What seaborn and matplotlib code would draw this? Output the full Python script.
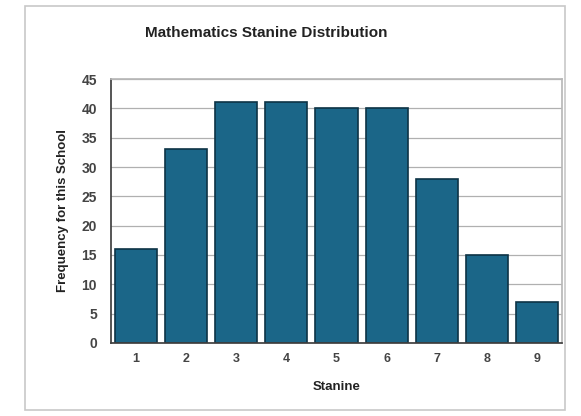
import matplotlib
matplotlib.use("Agg")
import matplotlib.pyplot as plt
from matplotlib.patches import Rectangle
import seaborn as sns
import pandas as pd

stanines = ["1", "2", "3", "4", "5", "6", "7", "8", "9"]
frequency = [16, 33, 41, 41, 40, 40, 28, 15, 7]
y_ticks = [0, 5, 10, 15, 20, 25, 30, 35, 40, 45]

df = pd.DataFrame({"Stanine": stanines, "Frequency": frequency})

sns.set_theme(style="white")
plt.rcParams["font.family"] = ["Liberation Sans", "DejaVu Sans"]

fig = plt.figure(figsize=(5.81, 4.16), dpi=100)
fig.patch.set_facecolor("white")
fig.patches.append(Rectangle((25 / 581, 6 / 416), 540 / 581, 404 / 416,
                             transform=fig.transFigure, fill=False,
                             edgecolor="#c8c8c8", linewidth=1.2))

ax = fig.add_axes([111 / 581, 73 / 416, 451 / 581, 264 / 416])
sns.barplot(data=df, x="Stanine", y="Frequency", color="#1b6688",
            saturation=1, width=0.84, edgecolor="#0d3345", linewidth=1.2, ax=ax)

ax.set_ylim(0, 45)
ax.set_yticks(y_ticks)
ax.set_xlim(-0.5, 8.5)
ax.yaxis.grid(True, color="#b0b0b0", linewidth=0.9)
ax.set_axisbelow(True)
for side in ["top", "right"]:
    ax.spines[side].set_color("#b8b8b8")
for side in ["left", "bottom"]:
    ax.spines[side].set_color("#404040")
ax.tick_params(axis="y", labelsize=10, colors="#444444", length=0, pad=10)
ax.tick_params(axis="x", labelsize=9, colors="#444444", length=0, pad=7)
for lbl in ax.get_yticklabels() + ax.get_xticklabels():
    lbl.set_fontweight("bold")

ax.set_xlabel("Stanine", fontsize=9.5, fontweight="bold", color="#222222", labelpad=12)
ax.set_ylabel("Frequency for this School", fontsize=9.5, fontweight="bold",
              color="#222222", labelpad=9)
fig.text(266 / 581, 1 - 33 / 416, "Mathematics Stanine Distribution",
         ha="center", va="center", fontsize=11, fontweight="bold", color="#222222")

fig.savefig("out.png", dpi=100)
